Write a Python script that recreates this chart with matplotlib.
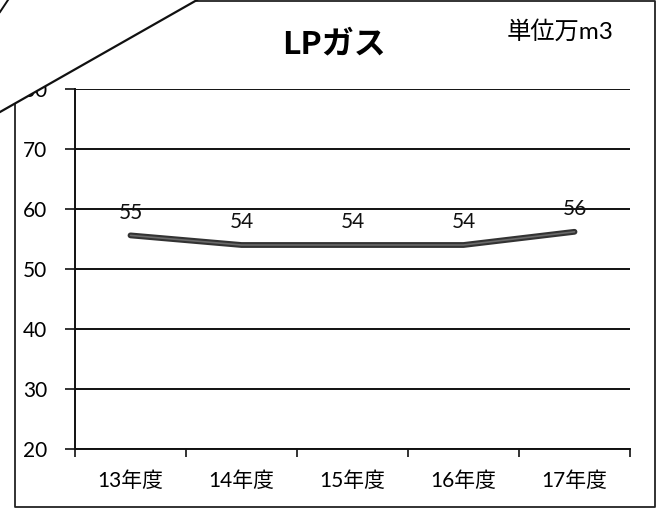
import matplotlib
matplotlib.use("Agg")
import matplotlib.pyplot as plt
from matplotlib.patches import Polygon
from matplotlib.lines import Line2D

categories = ["13年度", "14年度", "15年度", "16年度", "17年度"]
values = [55.6, 54.0, 54.0, 54.0, 56.2]
value_labels = ["55", "54", "54", "54", "56"]
yticks = [20, 30, 40, 50, 60, 70, 80]
title = "LPガス"
unit_label = "単位万m3"

W, H = 661, 509
plt.rcParams['font.family'] = ['Lato', 'Noto Sans CJK JP', 'DejaVu Sans']

fig = plt.figure(figsize=(W / 100, H / 100), dpi=100)
fig.patch.set_facecolor('white')

def fx(px):
    return px / W

def fy(py):
    return 1 - py / H

ax = fig.add_axes([fx(75), fy(449), fx(630) - fx(75), fy(89) - fy(449)])
x = list(range(len(categories)))
ax.set_xlim(-0.5, len(categories) - 0.5)
ax.set_ylim(20, 80)

for yv in yticks:
    ax.axhline(yv, color='#111111', lw=1.4, zorder=1)

ax.plot(x, values, color='#333333', lw=4.2, solid_capstyle='round', zorder=3)
ax.plot(x, values, color='#6a6a6a', lw=1.2, solid_capstyle='round', zorder=4)

for xi, v, lab in zip(x, values, value_labels):
    ax.annotate(lab, (xi, v), xytext=(0, 9), textcoords='offset points',
                ha='center', va='bottom', fontsize=15, color='#111111')

ax.set_yticks(yticks)
ax.set_yticklabels([str(t) for t in yticks], fontsize=15)
ax.set_xticks(x)
ax.set_xticklabels(categories, fontsize=15)
ax.set_xticks([i - 0.5 for i in range(len(categories) + 1)], minor=True)
ax.tick_params(axis='x', which='major', length=0, pad=16)
ax.tick_params(axis='x', which='minor', length=6, width=1.2, direction='out', color='#111111')
ax.tick_params(axis='y', length=7, width=1.2, direction='out', pad=13, color='#111111')
for s in ['top', 'right']:
    ax.spines[s].set_visible(False)
ax.spines['left'].set_linewidth(1.4)
ax.spines['bottom'].set_linewidth(1.4)
ax.spines['left'].set_color('#111111')
ax.spines['bottom'].set_color('#111111')
ax.set_facecolor('none')

fig.text(fx(334), fy(44), title, ha='center', va='center', fontsize=23,
         fontweight='bold', family=['Noto Sans CJK JP'])
fig.text(fx(560), fy(31), unit_label, ha='center', va='center', fontsize=17.5)

# outer frame
frame = [(197, 1), (655, 1), (655, 507), (15, 507), (15, 103)]
fig.lines.append(Line2D([fx(p[0]) for p in frame], [fy(p[1]) for p in frame],
                        transform=fig.transFigure, color='#222222', lw=1.3))

# folded corner of the scan
corner = Polygon([(fx(0), fy(0)), (fx(197), fy(0)), (fx(0), fy(112))],
                 closed=True, transform=fig.transFigure, facecolor='white',
                 edgecolor='none', zorder=10)
fig.patches.append(corner)
fig.lines.append(Line2D([fx(0), fx(197)], [fy(112), fy(0)], transform=fig.transFigure,
                        color='#111111', lw=1.6, zorder=11))
fig.lines.append(Line2D([fx(0), fx(8)], [fy(12), fy(0)], transform=fig.transFigure,
                        color='#111111', lw=1.4, zorder=11))

fig.savefig("out.png", dpi=100, facecolor='white')
